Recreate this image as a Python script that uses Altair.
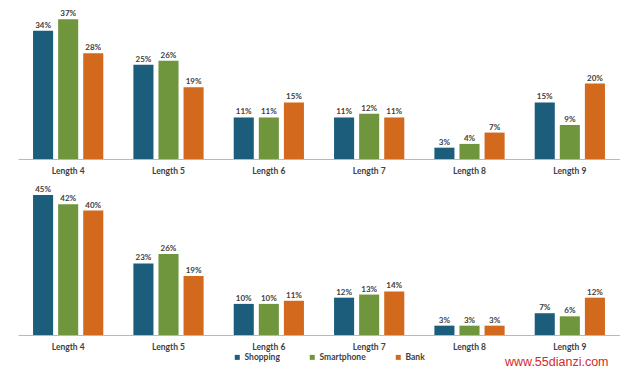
import altair as alt
import pandas as pd

categories = ["Length 4", "Length 5", "Length 6", "Length 7", "Length 8", "Length 9"]
series = ["Shopping", "Smartphone", "Bank"]
colors = ["#1b5d7b", "#6f963c", "#d2691c"]

top_shopping = [34, 25, 11, 11, 3, 15]
top_smartphone = [37, 26, 11, 12, 4, 9]
top_bank = [28, 19, 15, 11, 7, 20]

bottom_shopping = [45, 23, 10, 12, 3, 7]
bottom_smartphone = [42, 26, 10, 13, 3, 6]
bottom_bank = [40, 19, 11, 14, 3, 12]

watermark = "www.55dianzi.com"

FONT = "Lato"
TEXT_COLOR = "#404040"


def make_df(shop, phone, bank):
    rows = []
    for s, vals in zip(series, [shop, phone, bank]):
        for c, v in zip(categories, vals):
            rows.append({"Category": c, "Series": s, "Value": v})
    return pd.DataFrame(rows)


def panel(df, dmax, height, with_watermark=False):
    base = alt.Chart(df).transform_calculate(
        Label="datum.Value + '%'"
    ).encode(
        x=alt.X(
            "Category:N",
            sort=categories,
            scale=alt.Scale(paddingInner=0.3, paddingOuter=0.15),
            axis=alt.Axis(
                title=None,
                labelAngle=0,
                ticks=False,
                tickSize=0,
                labelPadding=7,
                domainColor="#b8b8b8",
                domainWidth=1,
                labelFont=FONT,
                labelFontSize=8.5,
                labelFontWeight="bold",
                labelColor=TEXT_COLOR,
            ),
        ),
        xOffset=alt.XOffset(
            "Series:N", sort=series, scale=alt.Scale(paddingInner=0.2, paddingOuter=0)
        ),
        y=alt.Y("Value:Q", scale=alt.Scale(domain=[0, dmax], nice=False), axis=None),
    )
    bars = base.mark_bar().encode(
        color=alt.Color(
            "Series:N",
            sort=series,
            scale=alt.Scale(domain=series, range=colors),
            legend=alt.Legend(
                title=None,
                orient="none",
                direction="horizontal",
                legendX=215,
                legendY=345,
                symbolType="square",
                symbolSize=25,
                symbolStrokeWidth=0,
                labelFont=FONT,
                labelFontSize=8.5,
                labelFontWeight="bold",
                labelColor=TEXT_COLOR,
                labelOffset=3,
                columnPadding=28,
                padding=0,
            ),
        )
    )
    labels = base.mark_text(
        baseline="bottom",
        dy=-1,
        font=FONT,
        fontSize=8,
        fontWeight="bold",
        color=TEXT_COLOR,
    ).encode(text="Label:N")
    layers = [bars, labels]
    if with_watermark:
        wm = alt.Chart(pd.DataFrame({"t": [watermark]})).mark_text(
            align="left",
            baseline="alphabetic",
            font="Liberation Sans",
            fontSize=12.5,
            color="#d42a2a",
        ).encode(text="t:N", x=alt.value(487), y=alt.value(180))
        layers.append(wm)
    return alt.layer(*layers).properties(width=602, height=height)


top = panel(make_df(top_shopping, top_smartphone, top_bank), 40, 151)
bottom = panel(make_df(bottom_shopping, bottom_smartphone, bottom_bank), 47.9, 149, True)

chart = alt.vconcat(top, bottom, spacing=11).properties(
    padding={"left": 10, "top": 0, "right": 0, "bottom": 0}
).configure_view(stroke=None)

chart.save("out.html", embed_options={"renderer": "svg", "actions": False})
